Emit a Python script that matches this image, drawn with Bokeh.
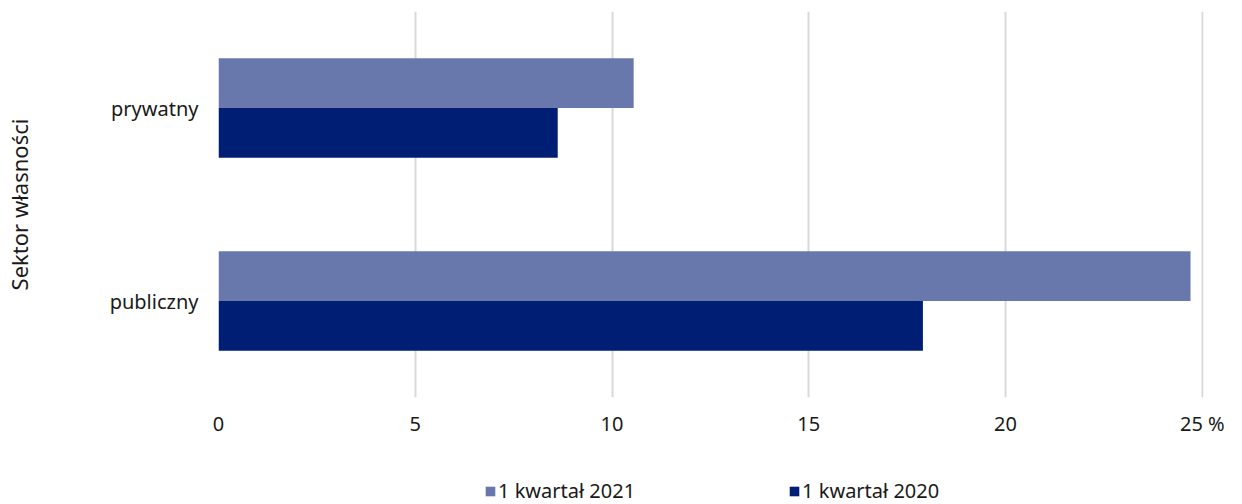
from bokeh.plotting import figure
from bokeh.models import (ColumnDataSource, FactorRange, Range1d, FixedTicker,
                          Legend, LegendItem)
from bokeh.layouts import column
from bokeh.transform import dodge
from bokeh.embed import file_html
from bokeh.resources import INLINE

sectors = ["publiczny", "prywatny"]
v2021 = [24.7, 10.55]
v2020 = [17.9, 8.62]
series_labels = ["1 kwartał 2021", "1 kwartał 2020"]
x_ticks = [0, 5, 10, 15, 20, 25]

FONT = "Noto Sans"
C2021 = "#6878AD"
C2020 = "#001E73"
TXT = "#1a1a1a"

src = ColumnDataSource(dict(sector=sectors, v2021=v2021, v2020=v2020))

p = figure(width=1242, height=464, output_backend="svg", toolbar_location=None,
           y_range=FactorRange(*sectors, range_padding=0),
           x_range=Range1d(0, 25.03),
           min_border_left=218, min_border_right=39, min_border_top=11,
           min_border_bottom=67)
p.outline_line_color = None

p.hbar(y=dodge("sector", 0.129, range=p.y_range), right="v2021", left=0,
       height=0.258, source=src, fill_color=C2021, line_color=None)
p.hbar(y=dodge("sector", -0.129, range=p.y_range), right="v2020", left=0,
       height=0.258, source=src, fill_color=C2020, line_color=None)

p.ygrid.grid_line_color = None
p.xgrid.grid_line_color = "#d9d9d9"
p.xgrid.grid_line_width = 2
p.xaxis.ticker = FixedTicker(ticks=x_ticks)
p.xaxis.major_label_overrides = {25: "25 %"}

for ax in (p.xaxis[0], p.yaxis[0]):
    ax.axis_line_color = None
    ax.major_tick_line_color = None
    ax.minor_tick_line_color = None
    ax.major_label_text_font = FONT
    ax.major_label_text_font_size = "20px"
    ax.major_label_text_color = TXT

p.xaxis.major_label_standoff = 6
p.yaxis.major_label_standoff = 14
p.yaxis.axis_label = "Sektor własności"
p.yaxis.axis_label_text_font = FONT
p.yaxis.axis_label_text_font_size = "22px"
p.yaxis.axis_label_text_font_style = "normal"
p.yaxis.axis_label_text_color = TXT
p.yaxis.axis_label_standoff = 73

# legend strip below the chart (series renderers hidden; legend shows them)
lf = figure(width=1242, height=40, output_backend="svg", toolbar_location=None,
            x_axis_type=None, y_axis_type=None,
            x_range=Range1d(0, 25), y_range=FactorRange(*sectors),
            min_border=0)
lf.outline_line_color = None
l1 = lf.hbar(y="sector", right="v2021", left=0, height=0.5, source=src,
             fill_color=C2021, line_color=None, visible=False)
l2 = lf.hbar(y="sector", right="v2020", left=0, height=0.5, source=src,
             fill_color=C2020, line_color=None, visible=False)

legend = Legend(items=[LegendItem(label=series_labels[0], renderers=[l1]),
                       LegendItem(label=series_labels[1], renderers=[l2])],
                orientation="horizontal", location=(266, 0),
                glyph_width=12, glyph_height=12, label_standoff=2,
                label_height=20, spacing=153, padding=0, margin=0,
                inactive_fill_alpha=0,
                label_text_font=FONT, label_text_font_size="20px",
                label_text_color=TXT, border_line_color=None,
                background_fill_alpha=0)
lf.add_layout(legend, "center")

layout = column(p, lf, spacing=0)
open("out.html", "w").write(file_html(layout, INLINE))
